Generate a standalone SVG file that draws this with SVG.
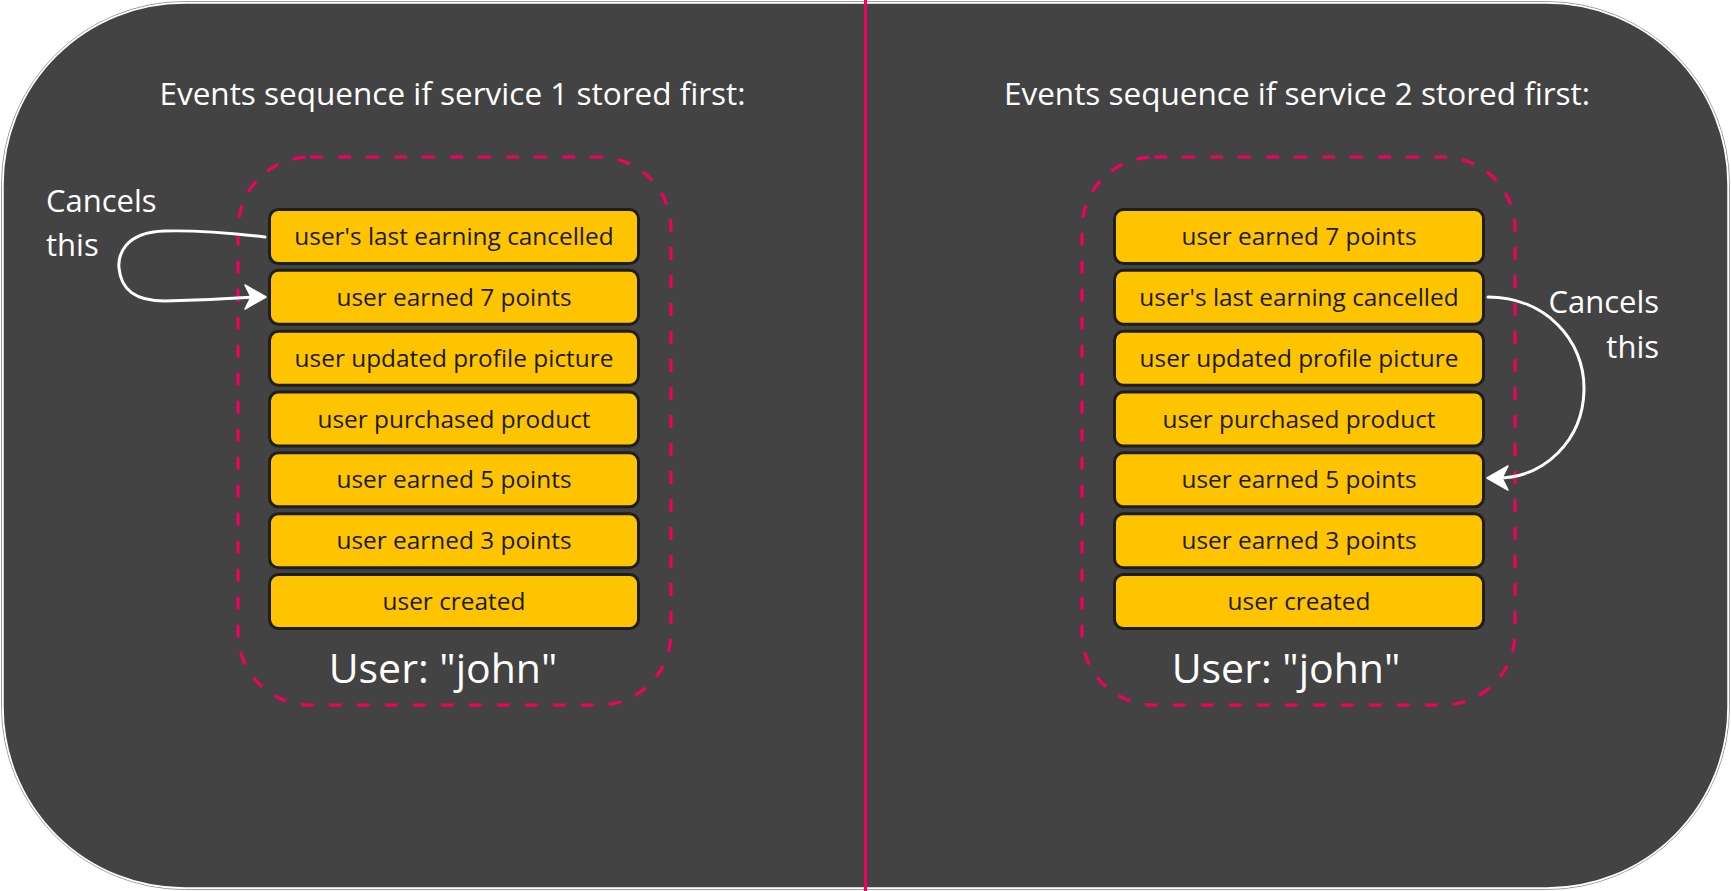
<svg xmlns="http://www.w3.org/2000/svg" width="1731" height="891" viewBox="0 0 1731 891">
<style>
.t{font-family:"Open Sans","Liberation Sans",sans-serif;fill:#ffffff}
.title{font-size:31.5px;text-anchor:middle}
.cap{font-size:31px}
.user{font-size:41px;text-anchor:middle}
.box rect{fill:#ffc400;stroke:#1e1e1e;stroke-width:3}
.box text{font-family:"Open Sans","Liberation Sans",sans-serif;font-size:24.4px;fill:#1a1a1a;text-anchor:middle}
.cont{fill:none;stroke:#f2005e;stroke-width:3.2;stroke-dasharray:13 15}
.conn path.l{fill:none;stroke:#ffffff;stroke-width:3;stroke-linecap:round}
.conn path.h{fill:#ffffff;stroke:#ffffff;stroke-width:1.5;stroke-linejoin:round}
</style>
<rect width="1731" height="891" fill="#ffffff"/>
<rect x="1.5" y="1.5" width="1728" height="888" rx="183" ry="183" fill="none" stroke="#9a9a9a" stroke-width="1"/>
<rect x="3" y="3" width="1725" height="885" rx="181" ry="181" fill="#434343" stroke="#ffffff" stroke-width="1.5"/>
<line x1="865.5" y1="0" x2="865.5" y2="891" stroke="#f2005e" stroke-width="3"/>

<g id="panel1">
<text class="t title" x="452.5" y="105">Events sequence if service 1 stored first:</text>
<rect class="cont" x="238" y="157" width="433" height="548" rx="72" ry="72"/>
<text class="t user" x="443" y="683">User: "john"</text>
</g>
<g id="panel2">
<text class="t title" x="1297" y="105">Events sequence if service 2 stored first:</text>
<rect class="cont" x="1082" y="157" width="433" height="548" rx="72" ry="72"/>
<text class="t user" x="1286" y="683">User: "john"</text>
</g>

<g id="l1" class="box"><rect x="269.5" y="209.5" width="369" height="54" rx="9"/><text x="454" y="245">user's last earning cancelled</text></g>
<g id="l2" class="box"><rect x="269.5" y="270.3" width="369" height="54" rx="9"/><text x="454" y="305.8">user earned 7 points</text></g>
<g id="l3" class="box"><rect x="269.5" y="331.2" width="369" height="54" rx="9"/><text x="454" y="366.7">user updated profile picture</text></g>
<g id="l4" class="box"><rect x="269.5" y="392" width="369" height="54" rx="9"/><text x="454" y="427.5">user purchased product</text></g>
<g id="l5" class="box"><rect x="269.5" y="452.8" width="369" height="54" rx="9"/><text x="454" y="488.3">user earned 5 points</text></g>
<g id="l6" class="box"><rect x="269.5" y="513.7" width="369" height="54" rx="9"/><text x="454" y="549.2">user earned 3 points</text></g>
<g id="l7" class="box"><rect x="269.5" y="574.5" width="369" height="54" rx="9"/><text x="454" y="610">user created</text></g>

<g id="r1" class="box"><rect x="1114.5" y="209.5" width="369" height="54" rx="9"/><text x="1299" y="245">user earned 7 points</text></g>
<g id="r2" class="box"><rect x="1114.5" y="270.3" width="369" height="54" rx="9"/><text x="1299" y="305.8">user's last earning cancelled</text></g>
<g id="r3" class="box"><rect x="1114.5" y="331.2" width="369" height="54" rx="9"/><text x="1299" y="366.7">user updated profile picture</text></g>
<g id="r4" class="box"><rect x="1114.5" y="392" width="369" height="54" rx="9"/><text x="1299" y="427.5">user purchased product</text></g>
<g id="r5" class="box"><rect x="1114.5" y="452.8" width="369" height="54" rx="9"/><text x="1299" y="488.3">user earned 5 points</text></g>
<g id="r6" class="box"><rect x="1114.5" y="513.7" width="369" height="54" rx="9"/><text x="1299" y="549.2">user earned 3 points</text></g>
<g id="r7" class="box"><rect x="1114.5" y="574.5" width="369" height="54" rx="9"/><text x="1299" y="610">user created</text></g>

<g id="lbl-left"><text class="t cap" x="46" y="212">Cancels</text><text class="t cap" x="46" y="256">this</text></g>
<g id="lbl-right"><text class="t cap" x="1659" y="313" text-anchor="end">Cancels</text><text class="t cap" x="1659" y="358" text-anchor="end">this</text></g>

<g id="connectors" class="conn">
<path class="l" d="M 265 237 Q 205 230 165 231 C 122 232 118 258 119 268 C 121 290 135 301 165 301 Q 210 300 255 297"/>
<path class="h" d="M 266 297 L 245 285 L 251 297 L 245 309 Z"/>
<path class="l" d="M 1488 297 C 1545 297 1585 340 1584 390 C 1583 440 1545 478 1497 478"/>
<path class="h" d="M 1487 478 L 1508 466 L 1502 478 L 1508 490 Z"/>
</g>
</svg>
